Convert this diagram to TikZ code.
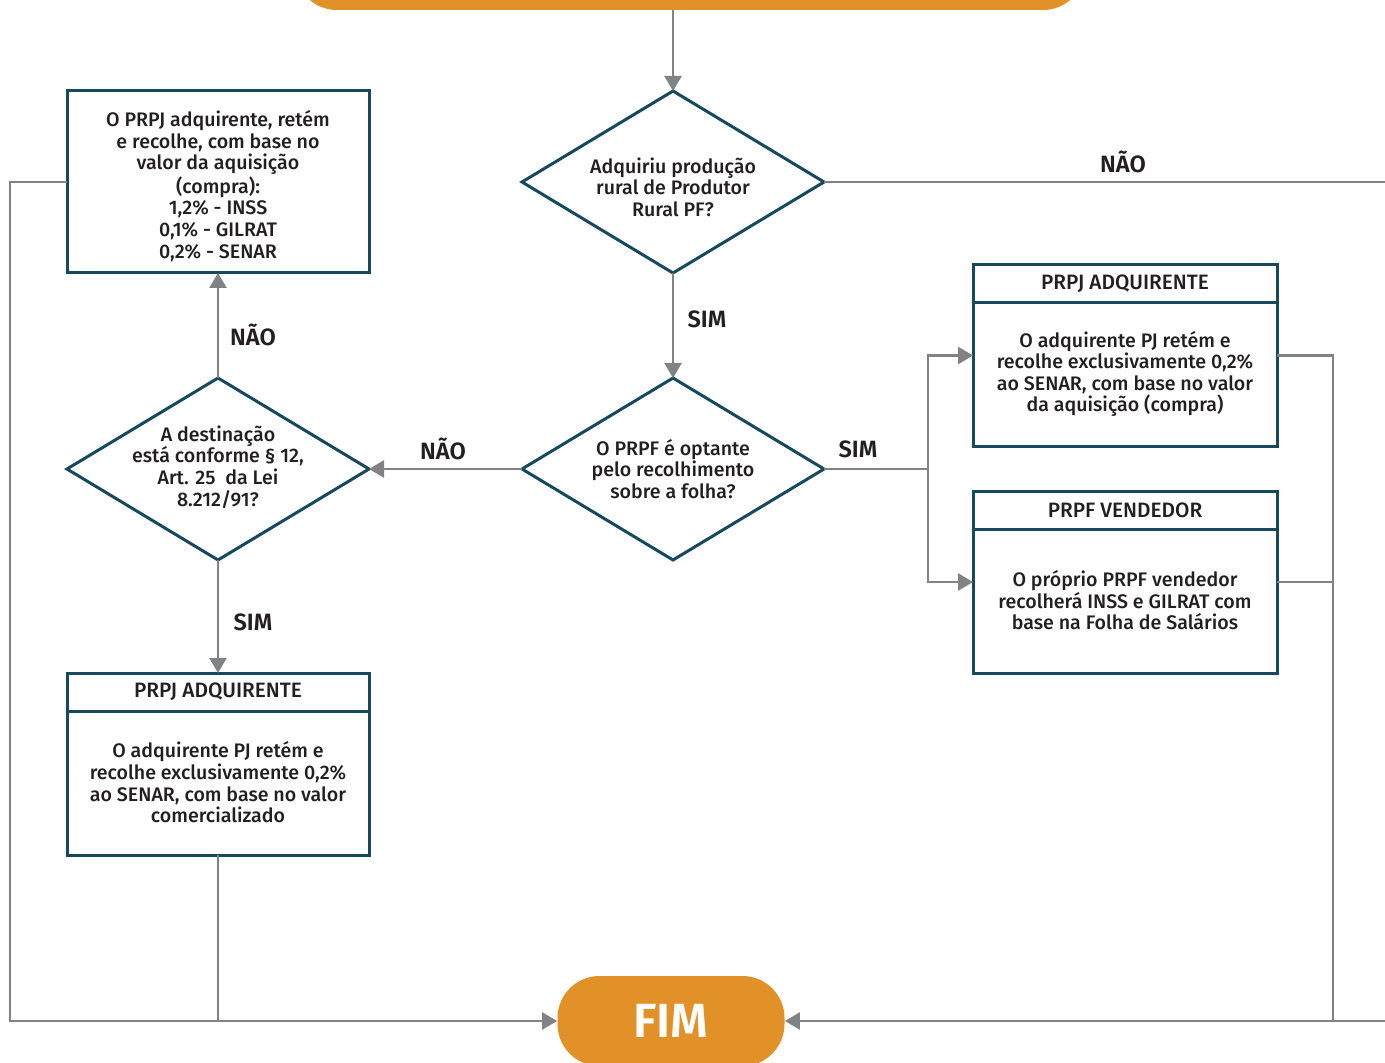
\documentclass[tikz,border=0pt]{standalone}
\usepackage{fontspec}
\setmainfont{Fira Sans}[UprightFont={* Medium}, BoldFont={* SemiBold}]
\usepackage{tikz}
\usetikzlibrary{shapes.geometric, arrows.meta, positioning}

\definecolor{azul}{HTML}{17495E}
\definecolor{cinza}{HTML}{808285}
\definecolor{laranja}{HTML}{E19127}
\definecolor{tinta}{HTML}{231F20}

\tikzset{
	caixa/.style={draw=azul, line width=1.5pt, fill=white, minimum width=151pt, minimum height=91pt, inner sep=0pt, outer sep=0pt, align=center, text=tinta, font=\fontsize{9.8}{10.8}\selectfont},
	cabecalho/.style={caixa, minimum height=19pt, font=\fontsize{10.4}{12}\selectfont},
	corpo/.style={inner sep=0pt, outer sep=0pt, minimum width=151pt, minimum height=71.5pt, align=center, text=tinta, font=\fontsize{9.8}{10.8}\selectfont},
	decisao/.style={diamond, draw=azul, line width=1.5pt, fill=white, minimum width=151pt, minimum height=91pt, inner sep=0pt, outer sep=0pt},
	pergunta/.style={align=center, text=tinta, font=\fontsize{9.8}{10.8}\selectfont},
	terminal/.style={fill=laranja, rounded corners=21pt, minimum height=45pt, inner sep=0pt, text=white, font=\bfseries\fontsize{24}{28}\selectfont},
	linha/.style={draw=cinza, line width=1.2pt},
	seta/.style={linha, -{Triangle[length=7.5pt, width=8.5pt]}},
	rotulo/.style={text=tinta, font=\bfseries\fontsize{11.8}{14}\selectfont},
}

\begin{document}
\begin{tikzpicture}[x=0.5pt, y=-0.5pt]
	\clip (0,0) rectangle (1385,1063);
	\fill[white] (0,0) rectangle (1385,1063);

	\node[terminal, minimum width=395pt] (inicio) at (690,-35) {};
	\node[terminal, minimum width=113.5pt] (fim) at (671,1021) {FIM};

	\node[decisao, label={[pergunta, yshift=-2.5pt]center:Adquiriu produção\\rural de Produtor\\Rural PF?}] (q1) at (673,182) {};
	\node[decisao, label={[pergunta]center:O PRPF é optante\\pelo recolhimento\\sobre a folha?}] (q2) at (673,469) {};
	\node[decisao, label={[pergunta, yshift=1pt]center:A destinação\\está conforme § 12,\\Art. 25~~da Lei\\8.212/91?}] (q3) at (218,469) {};

	\node[caixa, label={[pergunta, yshift=-2pt]center:O PRPJ adquirente, retém\\e recolhe, com base no\\valor da aquisição\\(compra):\\1,2\% - INSS\\0,1\% - GILRAT\\0,2\% - SENAR}] (caixaA) at (218,182) {};

	\node[caixa] (caixaB) at (218,764) {};
	\node[cabecalho, below=0pt of caixaB.north] (tituloB) {PRPJ ADQUIRENTE};
	\node[corpo, below=0pt of tituloB] (textoB) {O adquirente PJ retém e\\recolhe exclusivamente 0,2\%\\ao SENAR, com base no valor\\comercializado};

	\node[caixa, minimum width=152pt] (caixaC) at (1125,355.5) {};
	\node[cabecalho, minimum width=152pt, below=0pt of caixaC.north] (tituloC) {PRPJ ADQUIRENTE};
	\node[corpo, below=0pt of tituloC] (textoC) {O adquirente PJ retém e\\recolhe exclusivamente 0,2\%\\ao SENAR, com base no valor\\da aquisição (compra)};

	\node[caixa, minimum width=152pt] (caixaD) at (1125,582) {};
	\node[cabecalho, minimum width=152pt, below=0pt of caixaD.north] (tituloD) {PRPF VENDEDOR};
	\node[corpo, below=0pt of tituloD] (textoD) {O próprio PRPF vendedor\\recolherá INSS e GILRAT com\\base na Folha de Salários};

	\coordinate (saida) at (1400,182);
	\coordinate (desvio) at (928,469);
	\coordinate (retorno) at (1333,1021);
	\coordinate (entrada) at (1400,1021);
	\coordinate (canto) at (10,182);

	\draw[seta] (inicio.south -| q1) -- (q1.north);
	\draw[linha] (q1.east) -- (saida);
	\draw[seta] (q1.south) -- (q2.north);
	\draw[seta] (q2.west) -- (q3.east);
	\draw[seta] (q3.north) -- (caixaA.south);
	\draw[seta] (q3.south) -- (caixaB.north);
	\draw[linha] (q2.east) -- (desvio);
	\draw[seta] (desvio) |- (caixaC.west);
	\draw[seta] (desvio) |- (caixaD.west);
	\draw[linha] (caixaC.east) -| (retorno);
	\draw[linha] (caixaD.east) -- (caixaD.east -| retorno);
	\draw[seta] (entrada) -- (fim.east);
	\draw[seta] (caixaA.west) -- (canto) |- (fim.west);
	\draw[linha] (caixaB.south) -- (caixaB.south |- fim.west);

	\node[rotulo] at (1123,162) {NÃO};
	\node[rotulo] at (707,319) {SIM};
	\node[rotulo] at (443,449) {NÃO};
	\node[rotulo] at (858,449) {SIM};
	\node[rotulo] at (253,335) {NÃO};
	\node[rotulo] at (253,622) {SIM};

\end{tikzpicture}
\end{document}
